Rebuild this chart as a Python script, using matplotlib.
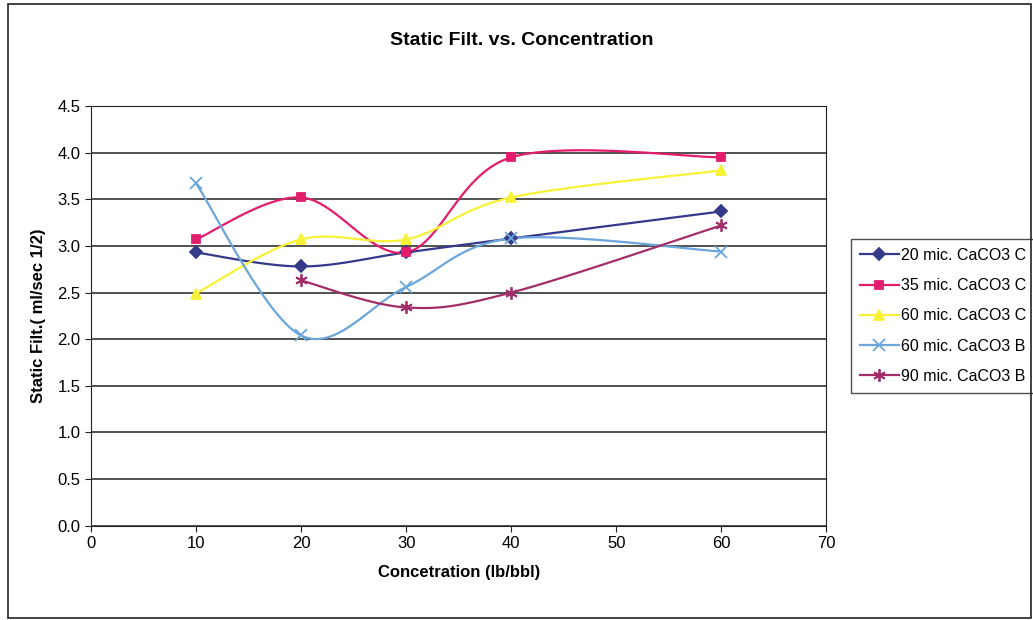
import numpy as np
import matplotlib
matplotlib.use("Agg")
from matplotlib import pyplot as plt, patches

plt.rcParams['font.family'] = ['Liberation Sans', 'DejaVu Sans']

conc = [10, 20, 30, 40, 60]
conc90 = [20, 30, 40, 60]

mic20C = [2.93, 2.78, 2.93, 3.08, 3.37]
mic35C = [3.07, 3.52, 2.93, 3.95, 3.95]
mic60C = [2.49, 3.07, 3.07, 3.52, 3.81]
mic60B = [3.67, 2.04, 2.56, 3.08, 2.94]
mic90B = [2.63, 2.34, 2.50, 3.22]

labels = ["20 mic. CaCO3 C", "35 mic. CaCO3 C", "60 mic. CaCO3 C",
          "60 mic. CaCO3 B", "90 mic. CaCO3 B"]


def smooth(xs, ys, n=30):
    # excel-like smoothed line: cubic bezier with catmull-rom control points
    p = np.column_stack([xs, ys]).astype(float)
    ext = np.vstack([p[0], p, p[-1]])
    out = []
    t = np.linspace(0, 1, n)[:, None]
    for i in range(len(p) - 1):
        p0, p1, p2, p3 = ext[i], ext[i + 1], ext[i + 2], ext[i + 3]
        c1 = p1 + (p2 - p0) / 6
        c2 = p2 - (p3 - p1) / 6
        seg = ((1 - t) ** 3) * p1 + 3 * ((1 - t) ** 2) * t * c1 + 3 * (1 - t) * t ** 2 * c2 + t ** 3 * p2
        out.append(seg)
    out = np.vstack(out)
    return out[:, 0], out[:, 1]


fig = plt.figure(figsize=(10.33, 6.2), dpi=100)
ax = fig.add_axes([0.088, 0.152, 0.712, 0.677])

series = [
    (conc, mic20C, '#34398a', 'D', 6),
    (conc, mic35C, '#e31c6c', 's', 6),
    (conc, mic60C, '#f7f236', '^', 7),
    (conc, mic60B, '#6aa6da', 'x', 8),
    (conc90, mic90B, '#a32d68', (6, 2, 0), 9),
]

for (xs, ys, col, mk, ms), lab in zip(series, labels):
    sx, sy = smooth(xs, ys)
    ax.plot(sx, sy, color=col, lw=1.6, zorder=3)
    ax.plot(xs, ys, linestyle='none', marker=mk, color=col, ms=ms,
            mec=col, mew=1.3, zorder=4)
    ax.plot([], [], color=col, lw=1.6, marker=mk, ms=ms, mec=col, mew=1.3, label=lab)

ax.set_xlim(0, 70)
ax.set_ylim(0, 4.5)
ax.set_xticks(range(0, 71, 10))
ax.set_yticks(np.arange(0, 4.51, 0.5))
ax.set_yticklabels([f"{v:.1f}" for v in np.arange(0, 4.51, 0.5)])
ax.yaxis.grid(True, color='#222222', lw=1.1)
ax.set_axisbelow(True)
for s in ax.spines.values():
    s.set_color('#222222')
ax.tick_params(labelsize=12, length=4, color='#222222')

ax.set_xlabel("Concetration (lb/bbl)", fontsize=12, fontweight='bold', labelpad=10)
ax.set_ylabel("Static Filt.( ml/sec 1/2)", fontsize=12, fontweight='bold', labelpad=8)
fig.text(0.505, 0.935, "Static Filt. vs. Concentration", ha='center', va='center',
         fontsize=14, fontweight='bold')

leg = ax.legend(loc='center left', bbox_to_anchor=(1.034, 0.5), fontsize=11.5,
                frameon=True, fancybox=False, edgecolor='#222222',
                handlelength=2.4, borderpad=0.55, labelspacing=0.95, handletextpad=0.15,
                borderaxespad=0.0)
leg.get_frame().set_linewidth(1.0)

fig.patches.append(patches.Rectangle((0.008, 0.003), 0.99, 0.99, transform=fig.transFigure,
                                     fill=False, edgecolor='#222222', lw=1.2))

fig.savefig("out.png", dpi=100)
